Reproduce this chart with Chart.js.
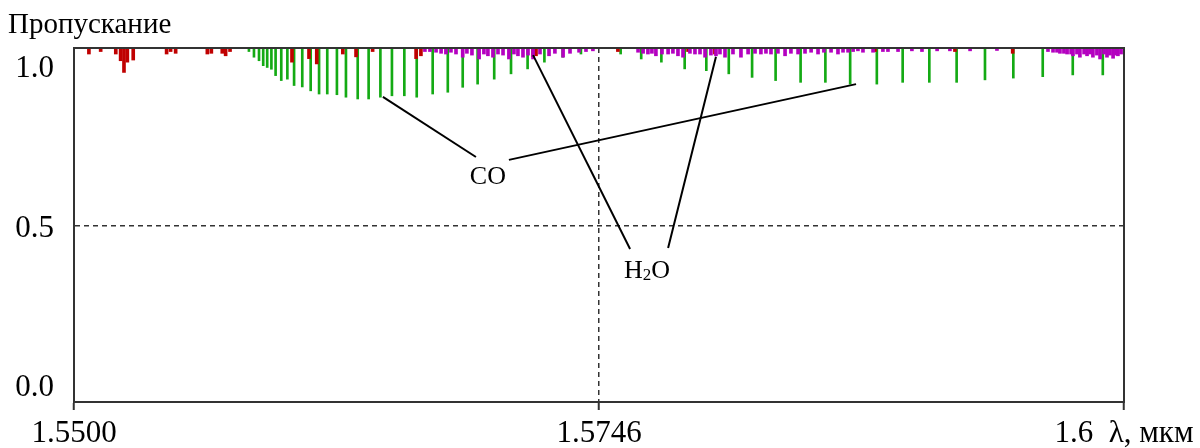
<html><head>
<style>
  body { margin: 0; background: #fff; }
  #chart { display: block; }
</style>
<script src="https://cdn.jsdelivr.net/npm/chart.js"></script>
</head>
<body>
<canvas id="chart" width="1200" height="448"></canvas>

<script>
// CO band lines: wavelength (мкм) and transmission at line centre
const coWave = [1.55833, 1.55857, 1.55881, 1.55901, 1.55920, 1.55940, 1.55960, 1.55987, 1.56016, 1.56048,
  1.56087, 1.56127, 1.56167, 1.56206, 1.56252, 1.56295, 1.56351, 1.56403, 1.56459, 1.56514,
  1.56573, 1.56632, 1.56708, 1.56780, 1.56851, 1.56922, 1.57001, 1.57081, 1.57160, 1.57240,
  1.57327, 1.57414,
  1.57603, 1.57701, 1.57797, 1.57908, 1.58011, 1.58118, 1.58229, 1.58341, 1.58460, 1.58578,
  1.58696, 1.58823, 1.58946, 1.59073, 1.59203, 1.59338, 1.59473, 1.59613, 1.59756, 1.59899];
const coTrans = [0.990, 0.974, 0.964, 0.950, 0.945, 0.940, 0.922, 0.908, 0.912, 0.894,
  0.890, 0.879, 0.870, 0.870, 0.868, 0.861, 0.856, 0.856, 0.861, 0.865,
  0.865, 0.861, 0.870, 0.875, 0.889, 0.898, 0.912, 0.927, 0.941, 0.960,
  0.974, 0.983,
  0.983, 0.969, 0.960, 0.941, 0.936, 0.927, 0.917, 0.908, 0.903, 0.903,
  0.898, 0.898, 0.903, 0.903, 0.903, 0.910, 0.915, 0.919, 0.924, 0.924];

// red lines
const redWave = [1.55071, 1.55127, 1.55199, 1.55222, 1.55238, 1.55254, 1.55282, 1.55441, 1.55460, 1.55484,
  1.55635, 1.55654, 1.55706, 1.55722, 1.55743, 1.56038, 1.56119, 1.56156, 1.56280, 1.56343,
  1.56422, 1.56629, 1.56652, 1.57186, 1.57200, 1.57590, 1.57924, 1.58052, 1.58814, 1.59195, 1.59470];
const redTrans = [0.983, 0.990, 0.983, 0.964, 0.931, 0.960, 0.966, 0.983, 0.990, 0.985,
  0.983, 0.985, 0.985, 0.978, 0.990, 0.960, 0.970, 0.955, 0.983, 0.975,
  0.990, 0.970, 0.978, 0.975, 0.978, 0.990, 0.990, 0.983, 0.990, 0.990, 0.985];

// H2O lines
const h2oWave = [1.56671, 1.56695, 1.56724, 1.56748, 1.56771, 1.56795, 1.56819, 1.56851, 1.56871, 1.56895,
  1.56929, 1.56952, 1.56971, 1.56995, 1.57019, 1.57043, 1.57071, 1.57095, 1.57114, 1.57138,
  1.57162, 1.57186, 1.57219, 1.57262, 1.57290, 1.57329, 1.57362, 1.57405, 1.57438, 1.57471,
  1.57686, 1.57710, 1.57733, 1.57752, 1.57771, 1.57800, 1.57829, 1.57852, 1.57876, 1.57900,
  1.57933, 1.57957, 1.57981, 1.58005, 1.58033, 1.58057, 1.58076, 1.58100, 1.58138, 1.58176,
  1.58210, 1.58243, 1.58271, 1.58295, 1.58319, 1.58352, 1.58386, 1.58414, 1.58448, 1.58481,
  1.58510, 1.58543, 1.58571, 1.58605, 1.58638, 1.58662, 1.58686, 1.58710, 1.58733, 1.58757,
  1.58805, 1.58852, 1.58876, 1.58924, 1.58990, 1.59038, 1.59110, 1.59171, 1.59267, 1.59395,
  1.59638, 1.59662, 1.59681, 1.59695, 1.59714, 1.59729, 1.59748, 1.59757, 1.59776, 1.59790,
  1.59810, 1.59824, 1.59838, 1.59852, 1.59871, 1.59886, 1.59905, 1.59919, 1.59933, 1.59948,
  1.59962, 1.59971, 1.59986];
const h2oTrans = [0.990, 0.990, 0.988, 0.985, 0.983, 0.988, 0.983, 0.974, 0.985, 0.980,
  0.969, 0.983, 0.978, 0.974, 0.983, 0.980, 0.969, 0.983, 0.978, 0.974,
  0.980, 0.969, 0.983, 0.978, 0.985, 0.974, 0.985, 0.988, 0.990, 0.992,
  0.988, 0.985, 0.983, 0.985, 0.978, 0.983, 0.983, 0.985, 0.978, 0.974,
  0.985, 0.983, 0.983, 0.974, 0.980, 0.978, 0.983, 0.974, 0.983, 0.974,
  0.983, 0.985, 0.983, 0.985, 0.983, 0.985, 0.978, 0.985, 0.983, 0.985,
  0.988, 0.983, 0.988, 0.988, 0.983, 0.988, 0.988, 0.990, 0.992, 0.988,
  0.988, 0.990, 0.990, 0.990, 0.992, 0.990, 0.992, 0.992, 0.992, 0.993,
  0.990, 0.988, 0.988, 0.985, 0.985, 0.983, 0.983, 0.978, 0.983, 0.974,
  0.983, 0.978, 0.983, 0.974, 0.980, 0.969, 0.983, 0.974, 0.980, 0.971,
  0.980, 0.978, 0.983];

const xTicks = [1.55, 1.575, 1.6];
const xLabels = ['1.5500', '1.5746', '1.6  λ, мкм'];
const yTicks = [0, 0.5, 1];
const yLabels = ['0.0', '0.5', '1.0'];

// leader lines [wave1, trans1, wave2, trans2] and labels
const coLeaders = [[1.56471, 0.862, 1.56914, 0.692], [1.57071, 0.684, 1.58724, 0.898]];
const h2oLeaders = [[1.57186, 0.980, 1.57648, 0.432], [1.58057, 0.975, 1.57829, 0.435]];
const coLabelPos = [1.56971, 0.634];
const h2oLabelPos = [1.57729, 0.370];

const serif = '"Liberation Serif", "Times New Roman", serif';

function toBars(waves, trans) {
  return waves.map((w, i) => ({ x: w, y: [trans[i], 1] }));
}

const decor = {
  id: 'decor',
  afterDraw(chart) {
    const { ctx, chartArea: a, scales } = chart;
    const x = scales.x, y = scales.y;
    ctx.save();
    // frame
    ctx.strokeStyle = '#333';
    ctx.lineWidth = 2;
    ctx.strokeRect(a.left, a.top, a.right - a.left, a.bottom - a.top);
    // leaders
    ctx.strokeStyle = '#000';
    ctx.lineWidth = 2;
    coLeaders.concat(h2oLeaders).forEach(l => {
      ctx.beginPath();
      ctx.moveTo(x.getPixelForValue(l[0]), y.getPixelForValue(l[1]));
      ctx.lineTo(x.getPixelForValue(l[2]), y.getPixelForValue(l[3]));
      ctx.stroke();
    });
    // labels
    ctx.fillStyle = '#000';
    ctx.textBaseline = 'middle';
    ctx.textAlign = 'center';
    ctx.font = '26px ' + serif;
    ctx.fillText('CO', x.getPixelForValue(coLabelPos[0]), y.getPixelForValue(coLabelPos[1]));
    const hx = x.getPixelForValue(h2oLabelPos[0]), hy = y.getPixelForValue(h2oLabelPos[1]);
    ctx.textAlign = 'left';
    const wH = ctx.measureText('H').width, wO = ctx.measureText('O').width;
    ctx.font = '17px ' + serif;
    const w2 = ctx.measureText('2').width;
    let sx = hx - (wH + w2 + wO) / 2;
    ctx.font = '26px ' + serif;
    ctx.fillText('H', sx, hy);
    ctx.font = '17px ' + serif;
    ctx.fillText('2', sx + wH, hy + 5);
    ctx.font = '26px ' + serif;
    ctx.fillText('O', sx + wH + w2, hy);
    // title
    ctx.textBaseline = 'alphabetic';
    ctx.font = '29px ' + serif;
    ctx.fillText('Пропускание', 8, 33);
    ctx.restore();
  }
};

new Chart(document.getElementById('chart'), {
  type: 'bar',
  data: {
    datasets: [
      { label: 'CO', data: toBars(coWave, coTrans), backgroundColor: '#14aa14', barThickness: 2, order: 3 },
      { label: 'other', data: toBars(redWave, redTrans), backgroundColor: '#c00000', barThickness: 3, order: 2 },
      { label: 'H2O', data: toBars(h2oWave, h2oTrans), backgroundColor: '#b400c0', barThickness: 3, order: 1 }
    ]
  },
  options: {
    responsive: false,
    animation: false,
    grouped: false,
    layout: { padding: { top: 48, right: 76, left: 10, bottom: 0 } },
    plugins: { legend: { display: false }, tooltip: { enabled: false } },
    scales: {
      x: {
        type: 'linear',
        min: 1.55,
        max: 1.6,
        offset: false,
        afterBuildTicks: s => { s.ticks = xTicks.map(v => ({ value: v })); },
        afterFit: s => { s.height = 46; },
        ticks: {
          autoSkip: false,
          maxRotation: 0,
          padding: 5,
          color: '#000',
          font: { family: serif, size: 31 },
          callback: (v, i) => xLabels[i]
        },
        grid: {
          offset: false,
          color: c => c.index === 1 ? '#333' : 'rgba(0,0,0,0)',
          lineWidth: 1.5,
          tickColor: '#333',
          tickLength: 8,
          tickWidth: 2,
          tickBorderDash: []
        },
        border: { display: true, color: '#333', width: 2, dash: [5, 4] }
      },
      y: {
        min: 0,
        max: 1,
        display: false
      },
      y2: {
        position: 'left',
        min: -0.053,
        max: 1.056,
        afterBuildTicks: s => { s.ticks = yTicks.map(v => ({ value: v })); },
        afterFit: s => { s.width = 64; },
        ticks: {
          padding: 20,
          labelOffset: 3,
          color: '#000',
          font: { family: serif, size: 31 },
          callback: (v, i) => yLabels[i]
        },
        grid: {
          drawTicks: false,
          color: c => (c.tick && c.tick.value === 0.5) ? '#333' : 'rgba(0,0,0,0)',
          lineWidth: 1.5
        },
        border: { display: true, color: '#333', width: 2, dash: [5, 4] }
      }
    }
  },
  plugins: [decor]
});
</script>
</body></html>
